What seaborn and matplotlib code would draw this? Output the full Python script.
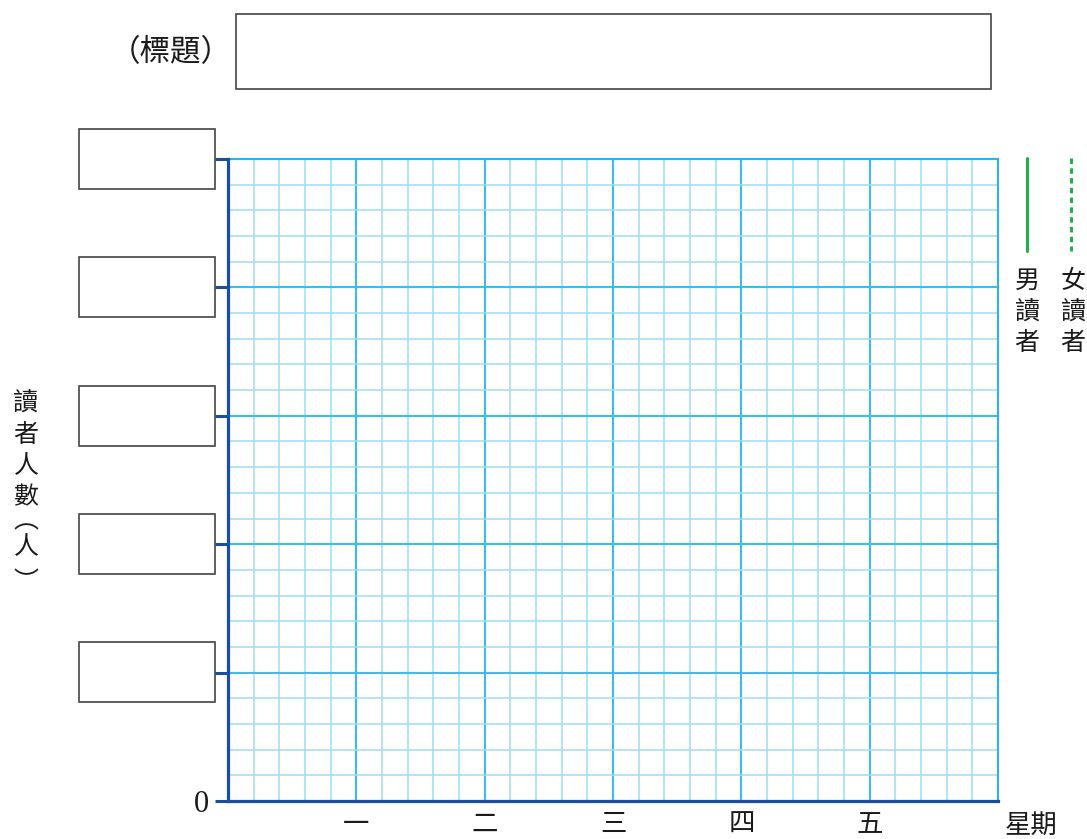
import numpy as np
import pandas as pd
import matplotlib
matplotlib.use("Agg")
import matplotlib.pyplot as plt
from matplotlib.patches import Rectangle
from matplotlib.lines import Line2D
import seaborn as sns

# worksheet data: days on x, reader counts still to be filled in
days = ['一', '二', '三', '四', '五']
day_pos = [1, 2, 3, 4, 5]
male_readers = [np.nan, np.nan, np.nan, np.nan, np.nan]
female_readers = [np.nan, np.nan, np.nan, np.nan, np.nan]
y_major = [0, 1, 2, 3, 4, 5]
y_labels = ['0', '', '', '', '', '']

title_text = '（標題）'
ylabel_chars = ['讀', '者', '人', '數', '︵', '人', '︶']
legend_male = ['男', '讀', '者']
legend_female = ['女', '讀', '者']

sns.set_theme(style="white")
plt.rcParams['font.family'] = ['Noto Sans CJK TC', 'DejaVu Sans']

W, H = 1087, 839
fig = plt.figure(figsize=(W / 100, H / 100), dpi=100)


def fx(x):
    return x / W


def fy(y):
    return 1 - y / H


ax = fig.add_axes([fx(228), fy(801), (998 - 228) / W, (801 - 159) / H])

df = pd.DataFrame({'day': day_pos, 'male': male_readers, 'female': female_readers})
sns.lineplot(data=df, x='day', y='male', ax=ax, color='#1db14b', lw=2.2, legend=False)
sns.lineplot(data=df, x='day', y='female', ax=ax, color='#1db14b', lw=2.2,
             linestyle=(0, (1.8, 1.4)), legend=False)

ax.set_xlim(0, 6)
ax.set_ylim(0, 5)
ax.set_xlabel('')
ax.set_ylabel('')

ax.set_xticks(day_pos)
ax.set_xticklabels(days, fontsize=19, color='#1a1a1a')
ax.set_xticks(np.arange(0, 6.01, 0.2), minor=True)
ax.set_yticks(y_major)
ax.set_yticklabels(y_labels, fontsize=22, color='#1a1a1a', family='Liberation Serif')
ax.set_yticks(np.arange(0, 5.01, 0.2), minor=True)

ax.tick_params(axis='x', which='major', length=0, pad=7)
ax.tick_params(axis='y', which='major', length=9.4, width=2.2, color='#1a4f9e',
               direction='out', pad=4, left=True)
ax.tick_params(which='minor', length=0)

ax.grid(which='minor', color='#9fdcf6', lw=1.1)
ax.grid(which='major', color='#3bbcf0', lw=1.5)
ax.set_axisbelow(True)

for side in ['left', 'bottom']:
    ax.spines[side].set_color('#1a4f9e')
    ax.spines[side].set_linewidth(2.3)
for side in ['top', 'right']:
    ax.spines[side].set_color('#2ab6ec')
    ax.spines[side].set_linewidth(1.5)
ax.spines['left'].set_zorder(5)
ax.spines['bottom'].set_zorder(5)

# title and answer boxes
fig.text(fx(171), fy(53), title_text, ha='center', va='center', fontsize=22, color='#1a1a1a')
fig.patches.append(Rectangle((fx(236), fy(89)), (991 - 236) / W, (89 - 14) / H,
                             transform=fig.transFigure, fill=False, ec='#444444', lw=1.2))
for yt in [159, 287, 416, 544, 672]:
    fig.patches.append(Rectangle((fx(79), fy(yt + 30)), (215 - 79) / W, 60 / H,
                                 transform=fig.transFigure, fill=False, ec='#444444', lw=1.2))

# vertical y label
ylabel_y = [403, 435, 466, 497, 521, 547, 582]
for ch, yy in zip(ylabel_chars, ylabel_y):
    fig.text(fx(26), fy(yy), ch, ha='center', va='center', fontsize=18, color='#1a1a1a')

fig.text(fx(1031), fy(825), '星期', ha='center', va='center', fontsize=19, color='#1a1a1a')

# legend keys
fig.lines.append(Line2D([fx(1027), fx(1027)], [fy(158), fy(251)], transform=fig.transFigure,
                        color='#1db14b', lw=2.2))
fig.lines.append(Line2D([fx(1071), fx(1071)], [fy(158), fy(251)], transform=fig.transFigure,
                        color='#1db14b', lw=2.2, linestyle=(0, (1.8, 1.4))))
for i, ch in enumerate(legend_male):
    fig.text(fx(1027), fy(281 + i * 31), ch, ha='center', va='center', fontsize=18, color='#1a1a1a')
for i, ch in enumerate(legend_female):
    fig.text(fx(1073), fy(281 + i * 31), ch, ha='center', va='center', fontsize=18, color='#1a1a1a')

fig.savefig('out.png', dpi=100)
